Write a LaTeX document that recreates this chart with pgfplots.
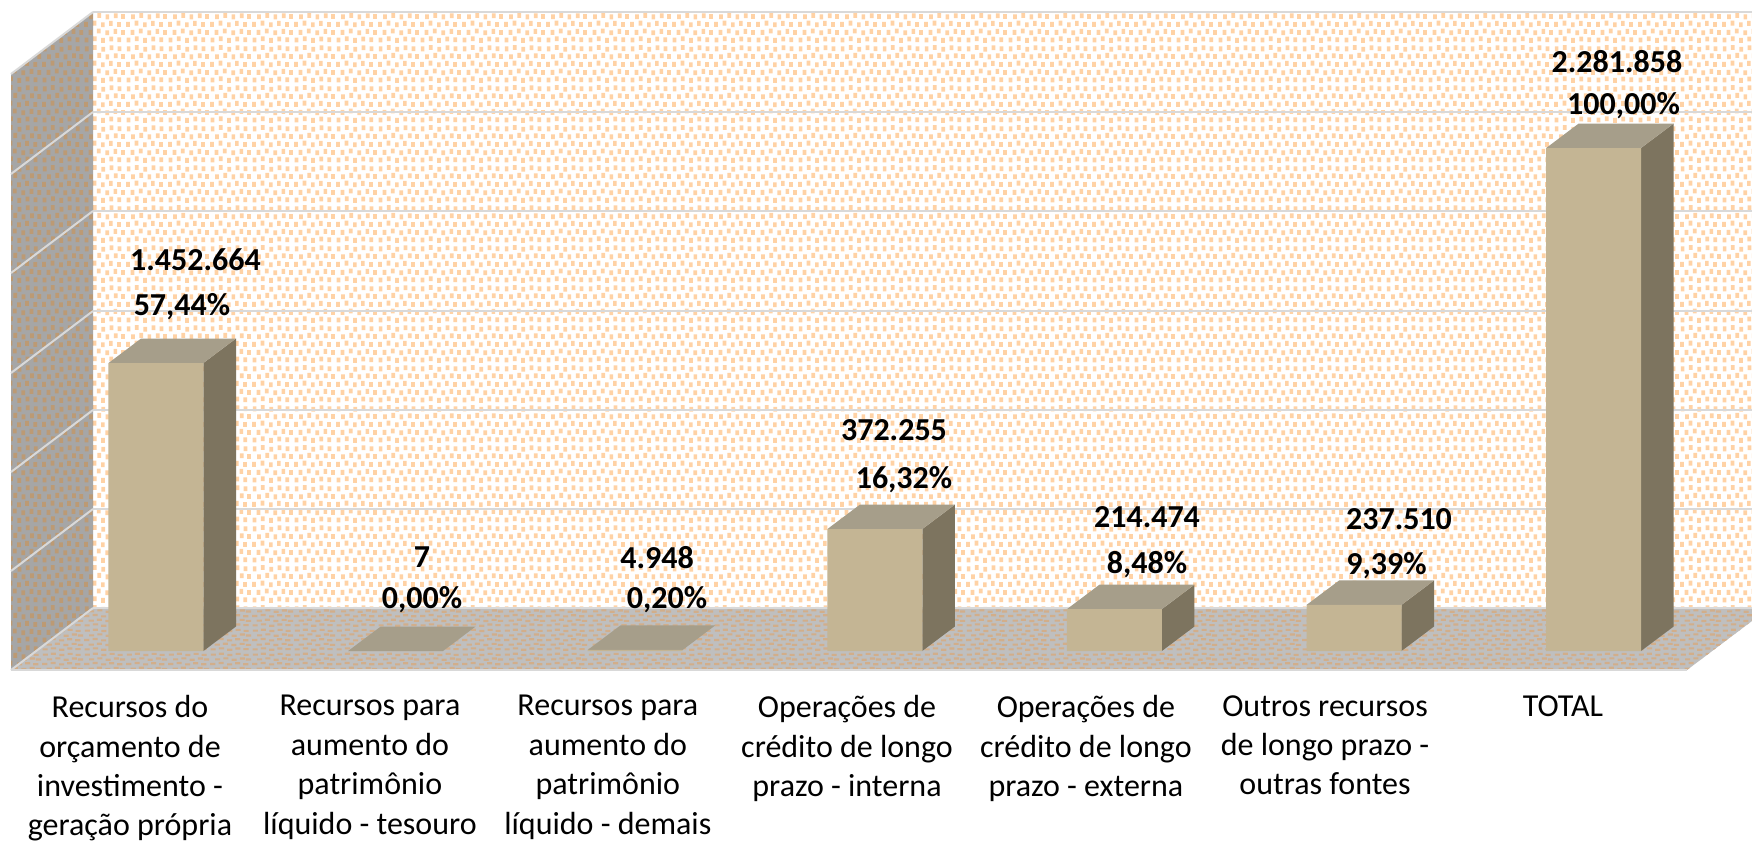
\documentclass[border=0pt]{standalone}
\usepackage{fontspec}
\setmainfont{Carlito}
\usepackage{pgfplots}
\pgfplotsset{compat=1.18}
\usetikzlibrary{patterns}
\definecolor{gridc}{RGB}{217,217,217}
\definecolor{dotw}{RGB}{255,210,165}
\definecolor{wallg}{RGB}{166,166,166}
\definecolor{dotl}{RGB}{188,154,116}
\definecolor{floorg}{RGB}{191,191,191}
\definecolor{dotf}{RGB}{210,174,138}
\definecolor{barfront}{RGB}{196,181,148}
\definecolor{barside}{RGB}{125,116,95}
\definecolor{bartop}{RGB}{166,158,138}
\newcommand\Rr[2]{\pgfpathrectangle{\pgfqpoint{#1pt}{#2pt}}{\pgfqpoint{1.9pt}{2.5pt}}}
\newcommand\Rf[2]{\pgfpathrectangle{\pgfqpoint{#1pt}{#2pt}}{\pgfqpoint{2.6pt}{1.1pt}}}
\pgfdeclarepatternformonly{wdots}{\pgfqpoint{0pt}{0pt}}{\pgfqpoint{21pt}{20pt}}{\pgfqpoint{21pt}{20pt}}{%
 \Rr{0.3}{0.3}\Rr{4.6}{0.9}\Rr{8.8}{0.1}\Rr{13.0}{0.8}\Rr{17.1}{0.4}%
 \Rr{2.4}{4.2}\Rr{6.6}{4.9}\Rr{10.9}{4.0}\Rr{15.1}{4.7}\Rr{19.0}{4.1}%
 \Rr{0.1}{8.3}\Rr{4.4}{8.9}\Rr{8.7}{8.1}\Rr{12.8}{8.8}\Rr{17.0}{8.2}%
 \Rr{2.6}{12.2}\Rr{6.8}{12.9}\Rr{11.0}{12.1}\Rr{15.3}{12.7}\Rr{19.0}{12.3}%
 \Rr{0.4}{16.2}\Rr{4.5}{16.9}\Rr{8.9}{16.0}\Rr{13.1}{16.8}\Rr{17.2}{16.3}%
 \pgfusepath{fill}}
\pgfdeclarepatternformonly{fdots}{\pgfqpoint{0pt}{0pt}}{\pgfqpoint{21pt}{12pt}}{\pgfqpoint{21pt}{12pt}}{%
 \Rf{0.3}{0.3}\Rf{4.6}{0.8}\Rf{8.8}{0.1}\Rf{13.0}{0.7}\Rf{17.1}{0.4}%
 \Rf{2.4}{2.7}\Rf{6.6}{3.2}\Rf{10.9}{2.5}\Rf{15.1}{3.1}\Rf{18.4}{2.6}%
 \Rf{0.1}{5.1}\Rf{4.4}{5.6}\Rf{8.7}{4.9}\Rf{12.8}{5.5}\Rf{17.0}{5.0}%
 \Rf{2.6}{7.5}\Rf{6.8}{8.0}\Rf{11.0}{7.3}\Rf{15.3}{7.9}\Rf{18.4}{7.4}%
 \Rf{0.4}{9.9}\Rf{4.5}{10.4}\Rf{8.9}{9.7}\Rf{13.1}{10.3}\Rf{17.2}{9.8}%
 \pgfusepath{fill}}
\newcommand\lab[3]{\node[font=\fontsize{16}{19}\selectfont\bfseries,anchor=center,inner sep=0pt] at (axis cs:#1,#2) {#3};}
\begin{document}
\begin{tikzpicture}
\useasboundingbox (0,0) rectangle (876pt,421pt);
% walls and floor, in picture units
\begin{axis}[name=bg,at={(0,0)},anchor=south west,scale only axis,width=876pt,height=421pt,
  xmin=0,xmax=1752,ymin=0,ymax=842,y dir=reverse,hide axis,clip=true]
 \addplot[fill=white,draw=none,forget plot] coordinates {(93,12)(1752,12)(1752,608)(93,608)} --cycle;
 \addplot[pattern=wdots,pattern color=dotw,draw=none,forget plot] coordinates {(93,12)(1752,12)(1752,608)(93,608)} --cycle;
 \addplot[fill=wallg,draw=none,forget plot] coordinates {(11,74)(93,12)(93,608)(11,670)} --cycle;
 \addplot[pattern=wdots,pattern color=dotl,draw=none,forget plot] coordinates {(11,74)(93,12)(93,608)(11,670)} --cycle;
 \addplot[fill=floorg,draw=none,forget plot] coordinates {(93,608)(1752,608)(1752,621)(1687,670)(11,670)} --cycle;
 \addplot[pattern=fdots,pattern color=dotf,draw=none,forget plot] coordinates {(93,608)(1752,608)(1752,621)(1687,670)(11,670)} --cycle;
 % gridlines on the back wall
 \addplot[gridc,line width=1pt,forget plot] coordinates {(93,12)(1752,12)};
 \addplot[gridc,line width=1pt,forget plot] coordinates {(93,112)(1752,112)};
 \addplot[gridc,line width=1pt,forget plot] coordinates {(93,211)(1752,211)};
 \addplot[gridc,line width=1pt,forget plot] coordinates {(93,311)(1752,311)};
 \addplot[gridc,line width=1pt,forget plot] coordinates {(93,410)(1752,410)};
 \addplot[gridc,line width=1pt,forget plot] coordinates {(93,509)(1752,509)};
 \addplot[gridc,line width=1pt,forget plot] coordinates {(93,608)(1752,608)};
 % gridlines on the side wall
 \addplot[gridc,line width=1pt,forget plot] coordinates {(11,74)(93,12)};
 \addplot[gridc,line width=1pt,forget plot] coordinates {(11,174)(93,112)};
 \addplot[gridc,line width=1pt,forget plot] coordinates {(11,273)(93,211)};
 \addplot[gridc,line width=1pt,forget plot] coordinates {(11,373)(93,311)};
 \addplot[gridc,line width=1pt,forget plot] coordinates {(11,472)(93,410)};
 \addplot[gridc,line width=1pt,forget plot] coordinates {(11,571)(93,509)};
 \addplot[gridc,line width=1pt,forget plot] coordinates {(11,670)(93,608)};
 \addplot[gridc,line width=1pt,forget plot] coordinates {(11,670)(1687,670)};
 % data labels
 \lab{195.5}{260}{1.452.664}\lab{182}{307}{57,44\%}
 \lab{422}{557.5}{7}\lab{422}{600}{0,00\%}
 \lab{657}{557.5}{4.948}\lab{667}{600}{0,20\%}
 \lab{894}{430}{372.255}\lab{904}{480}{16,32\%}
 \lab{1147}{517}{214.474}\lab{1147}{565}{8,48\%}
 \lab{1399}{519.5}{237.510}\lab{1386.5}{566}{9,39\%}
 \lab{1617}{61.5}{2.281.858}\lab{1623.5}{106}{100,00\%}
\end{axis}
% bars, in data units
\begin{axis}[at={(0,86pt)},anchor=south west,scale only axis,width=876pt,height=335pt,
  xmin=-0.651,xmax=6.661,ymin=-86.2,ymax=2953.3,
  axis x line=bottom,axis y line=none,axis line style={draw=none},
  ytick=\empty,xtick={-0.1085,0.893,1.886,2.884,3.881,4.879,5.872},
  major tick length=0pt,xtick style={draw=none},
  xticklabels={{Recursos do\\orçamento de\\investimento -\\geração própria},
    {Recursos para\\aumento do\\patrimônio\\líquido - tesouro},
    {Recursos para\\aumento do\\patrimônio\\líquido - demais},
    {Operações de\\crédito de longo\\prazo - interna},
    {Operações de\\crédito de longo\\prazo - externa},
    {Outros recursos\\de longo prazo -\\outras fontes},
    {TOTAL}},
  xticklabel style={align=center,anchor=north,font=\fontsize{16}{19.7}\selectfont,yshift=-12.5pt,inner sep=0pt}]
 % side faces
 \addplot[fill=barside,draw=none,forget plot] coordinates {(.198,0)(.334,111.1)(.334,1417.6)(.198,1306.5)} --cycle;
 \addplot[fill=barside,draw=none,forget plot] coordinates {(3.198,0)(3.334,111.1)(3.334,664.1)(3.198,553)} --cycle;
 \addplot[fill=barside,draw=none,forget plot] coordinates {(4.198,0)(4.334,111.1)(4.334,301.1)(4.198,190)} --cycle;
 \addplot[fill=barside,draw=none,forget plot] coordinates {(5.198,0)(5.334,111.1)(5.334,320.1)(5.198,209)} --cycle;
 \addplot[fill=barside,draw=none,forget plot] coordinates {(6.198,0)(6.334,111.1)(6.334,2392.96)(6.198,2281.858)} --cycle;
 % top faces
 \addplot[fill=bartop,draw=none,forget plot] coordinates {(-.198,1306.5)(.198,1306.5)(.334,1417.6)(-.062,1417.6)} --cycle;
 \addplot[fill=bartop,draw=none,forget plot] coordinates {(.802,.007)(1.198,.007)(1.334,111.1)(.938,111.1)} --cycle;
 \addplot[fill=bartop,draw=none,forget plot] coordinates {(1.802,4.948)(2.198,4.948)(2.334,116)(1.938,116)} --cycle;
 \addplot[fill=bartop,draw=none,forget plot] coordinates {(2.802,553)(3.198,553)(3.334,664.1)(2.938,664.1)} --cycle;
 \addplot[fill=bartop,draw=none,forget plot] coordinates {(3.802,190)(4.198,190)(4.334,301.1)(3.938,301.1)} --cycle;
 \addplot[fill=bartop,draw=none,forget plot] coordinates {(4.802,209)(5.198,209)(5.334,320.1)(4.938,320.1)} --cycle;
 \addplot[fill=bartop,draw=none,forget plot] coordinates {(5.802,2281.858)(6.198,2281.858)(6.334,2392.96)(5.938,2392.96)} --cycle;
 % front faces
 \addplot[ybar,bar width=0.3965,bar shift=0pt,fill=barfront,draw=none] coordinates {(0,1306.5)(1,0.007)(2,4.948)(3,553)(4,190)(5,209)(6,2281.858)};
\end{axis}
\end{tikzpicture}
\end{document}
